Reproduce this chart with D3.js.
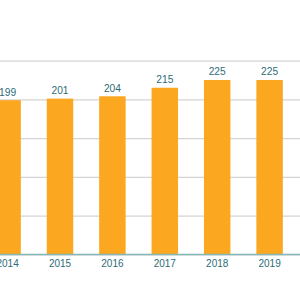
<!DOCTYPE html>
<html><head><meta charset="utf-8">
<script src="https://cdn.jsdelivr.net/npm/d3@7"></script>
<style>html,body{margin:0;padding:0;background:#fff;overflow:hidden}svg{display:block}</style>
</head><body>
<svg id="c" width="300" height="300"></svg>
<script>
const years = ["2014","2015","2016","2017","2018","2019"];
const values = [199, 201, 204, 215, 225, 225];
const gridTicks = [0, 50, 100, 150, 200, 250];

const svg = d3.select("#c");
const W = 300, H = 300;
const step = 52.4;
const x = d3.scaleBand().domain(years)
  .range([7.6 - step/2, 7.6 - step/2 + step*years.length])
  .paddingInner(0.495).paddingOuter(0.2475);
const y = d3.scaleLinear().domain([0, 250]).range([254.5, 60.6]);

// gridlines
const yAxis = d3.axisLeft(y).tickValues(gridTicks).tickSize(-W).tickFormat("");
const g = svg.append("g").call(yAxis);
g.select(".domain").remove();
g.selectAll(".tick line").attr("stroke", "#d4d4d4").attr("stroke-width", 1.2);

// bars
svg.selectAll("rect.bar").data(values).join("rect")
  .attr("class", "bar")
  .attr("x", (d, i) => x(years[i]))
  .attr("width", x.bandwidth())
  .attr("y", d => y(d))
  .attr("height", d => y(0) - y(d))
  .attr("fill", "#FBA71F");

// baseline
svg.append("line").attr("x1", 0).attr("x2", W).attr("y1", y(0)).attr("y2", y(0))
  .attr("stroke", "#86b7b8").attr("stroke-width", 1.6);

// value labels
svg.selectAll("text.val").data(values).join("text")
  .attr("class", "val")
  .attr("x", (d, i) => x(years[i]) + x.bandwidth()/2)
  .attr("y", d => y(d) - 4.5)
  .attr("text-anchor", "middle")
  .attr("font-family", "Liberation Sans, Arial, sans-serif")
  .attr("font-size", 10.2)
  .attr("fill", "#2d6c76")
  .text(d => d);

// x axis labels
const xAxis = d3.axisBottom(x).tickSize(0).tickPadding(5.5);
const xg = svg.append("g").attr("transform", `translate(0,${y(0)})`).call(xAxis);
xg.select(".domain").remove();
xg.selectAll("text").attr("font-family", "Liberation Sans, Arial, sans-serif")
  .attr("font-size", 10).attr("fill", "#2d6c76");
</script>
</body></html>
